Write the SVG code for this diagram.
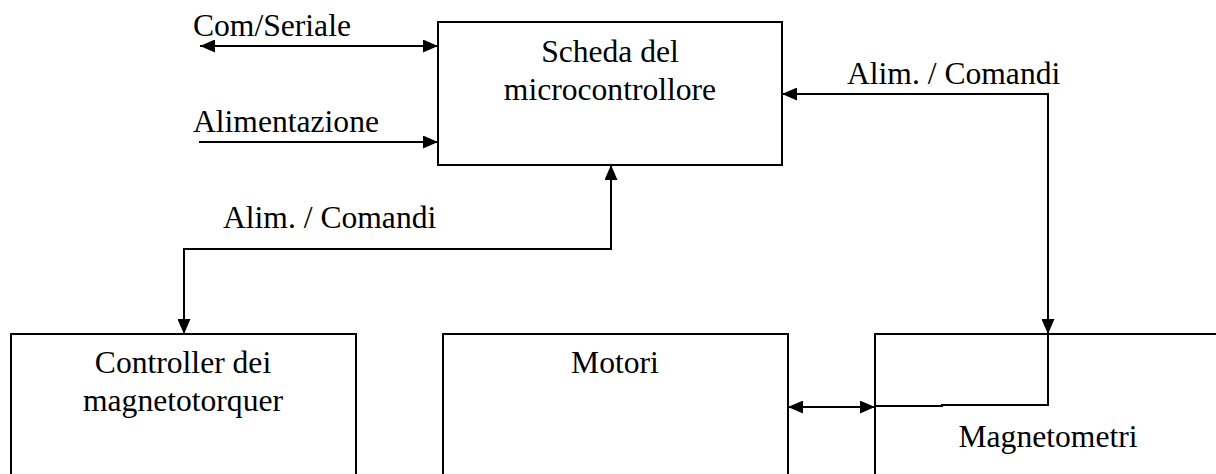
<svg xmlns="http://www.w3.org/2000/svg" width="1216" height="474" viewBox="0 0 1216 474">
<defs>
<style>
.box{fill:#fff;stroke:#000;stroke-width:2}
.ln{fill:none;stroke:#000;stroke-width:2}
.t{font-family:"Liberation Serif","Times New Roman",serif;font-size:31.6px;fill:#000}
.c{text-anchor:middle}
</style>
<marker id="ah" viewBox="0 0 15 13" markerWidth="15" markerHeight="13" refX="15" refY="6.5" orient="auto-start-reverse" markerUnits="userSpaceOnUse">
<path d="M0,0 L15,6.5 L0,13 z" fill="#000"/>
</marker>
</defs>
<rect width="1216" height="474" fill="#fff"/>
<g id="scheda">
<rect class="box" x="438" y="22" width="344" height="143"/>
<text class="t c" x="610" y="62">Scheda del</text>
<text class="t c" x="610" y="100">microcontrollore</text>
</g>
<g id="controller">
<rect class="box" x="11" y="334" width="345" height="150"/>
<text class="t c" x="183" y="373">Controller dei</text>
<text class="t c" x="183" y="411">magnetotorquer</text>
</g>
<g id="motori">
<rect class="box" x="443" y="334" width="345" height="150"/>
<text class="t c" x="615" y="373">Motori</text>
</g>
<g id="magnetometri">
<rect class="box" x="875" y="334" width="360" height="150"/>
<text class="t c" x="1048" y="447">Magnetometri</text>
</g>
<g id="connectors">
<line class="ln" x1="200" y1="46" x2="438" y2="46" marker-start="url(#ah)" marker-end="url(#ah)"/>
<line class="ln" x1="199" y1="142" x2="438" y2="142" marker-end="url(#ah)"/>
<polyline class="ln" points="611,165 611,249 184,249 184,334" marker-start="url(#ah)" marker-end="url(#ah)"/>
<polyline class="ln" points="782,94 1048,94 1048,334" marker-start="url(#ah)" marker-end="url(#ah)"/>
<polyline class="ln" points="1048,334 1048,405 942,405 942,406 875,406"/>
<line class="ln" x1="788" y1="407" x2="875" y2="407" marker-start="url(#ah)" marker-end="url(#ah)"/>
<text class="t" x="193" y="36">Com/Seriale</text>
<text class="t" x="193" y="132">Alimentazione</text>
<text class="t" x="223" y="228">Alim. / Comandi</text>
<text class="t" x="847" y="84">Alim. / Comandi</text>
</g>
</svg>
